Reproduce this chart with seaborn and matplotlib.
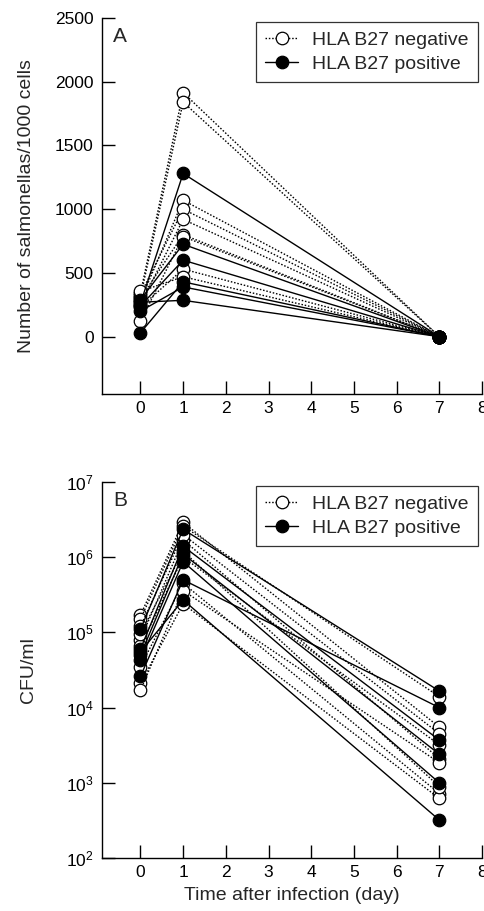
import matplotlib
matplotlib.use("Agg")
import matplotlib.pyplot as plt
from matplotlib.lines import Line2D
import seaborn as sns
import pandas as pd

# ---------------- data ----------------
days = [0, 1, 7]

# Panel A: number of salmonellas / 1000 cells
a_neg_day0 = [340, 310, 280, 330, 250, 300, 120, 230, 355]
a_neg_day1 = [1915, 1840, 1070, 1000, 920, 800, 785, 530, 470]
a_neg_day7 = [0, 0, 0, 0, 0, 0, 0, 0, 0]
a_pos_day0 = [260, 290, 240, 30, 200, 270]
a_pos_day1 = [1280, 725, 600, 430, 390, 285]
a_pos_day7 = [0, 0, 0, 0, 0, 0]

# Panel B: CFU/ml
b_neg_day0 = [1.7e5, 1.5e5, 8.0e4, 1.2e5, 3.5e4, 2.1e4, 1.7e4, 6.5e4, 9.5e4]
b_neg_day1 = [2.9e6, 2.6e6, 1.7e6, 2.0e6, 4.5e5, 2.4e5, 3.6e5, 1.0e6, 1.2e6]
b_neg_day7 = [5.5e3, 1.4e4, 2.1e3, 4.5e3, 7.2e2, 6.2e2, 1.85e3, 3.2e3, 8.9e2]
b_pos_day0 = [1.1e5, 6.0e4, 5.0e4, 4.3e4, 2.6e4, 5.5e4]
b_pos_day1 = [2.35e6, 1.4e6, 1.1e6, 8.7e5, 5.0e5, 2.7e5]
b_pos_day7 = [1.66e4, 3.7e3, 2.4e3, 1.0e3, 1.0e4, 3.2e2]

label_neg = "HLA B27 negative"
label_pos = "HLA B27 positive"

a_yticks = [0, 500, 1000, 1500, 2000, 2500]
b_yticks = [1e2, 1e3, 1e4, 1e5, 1e6, 1e7]
x_ticks = [0, 1, 2, 3, 4, 5, 6, 7, 8]


def long_frame(d0, d1, d7, prefix):
    rows = []
    for i, vals in enumerate(zip(d0, d1, d7)):
        for d, v in zip(days, vals):
            rows.append({"subject": f"{prefix}{i}", "day": d, "value": v})
    return pd.DataFrame(rows)


a_neg = long_frame(a_neg_day0, a_neg_day1, a_neg_day7, "n")
a_pos = long_frame(a_pos_day0, a_pos_day1, a_pos_day7, "p")
b_neg = long_frame(b_neg_day0, b_neg_day1, b_neg_day7, "n")
b_pos = long_frame(b_pos_day0, b_pos_day1, b_pos_day7, "p")

# ---------------- style ----------------
sns.set_theme(style="ticks")
plt.rcParams["font.family"] = ["Liberation Sans", "DejaVu Sans"]
plt.rcParams["mathtext.fontset"] = "custom"
plt.rcParams["mathtext.rm"] = "Liberation Sans"
plt.rcParams["mathtext.it"] = "Liberation Sans"

W, H = 484, 911
fig = plt.figure(figsize=(W / 100, H / 100), dpi=100)
ax1 = fig.add_axes([102 / W, 1 - 394 / H, 380 / W, 376 / H])
ax2 = fig.add_axes([102 / W, 1 - 858 / H, 380 / W, 376 / H])

dots = (0, (1.1, 1.3))
neg_kw = dict(color="black", lw=1.0, linestyle=dots, marker="o", markersize=9,
              markerfacecolor="white", markeredgecolor="black", markeredgewidth=0.9)
pos_kw = dict(color="black", lw=1.0, linestyle="-", marker="o", markersize=9,
              markerfacecolor="black", markeredgecolor="black", markeredgewidth=0.9)

for ax, neg, pos in [(ax1, a_neg, a_pos), (ax2, b_neg, b_pos)]:
    sns.lineplot(data=neg, x="day", y="value", units="subject", estimator=None,
                 sort=False, ax=ax, legend=False, **neg_kw)
    sns.lineplot(data=pos, x="day", y="value", units="subject", estimator=None,
                 sort=False, ax=ax, legend=False, **pos_kw)

# axes A
ax1.set_xlim(-0.9, 8)
ax1.set_ylim(-450, 2500)
ax1.set_yticks(a_yticks)
ax1.set_ylabel("Number of salmonellas/1000 cells", fontsize=14, labelpad=14)
ax1.set_xlabel("")

# axes B
ax2.set_yscale("log")
ax2.set_xlim(-0.9, 8)
ax2.set_ylim(1e2, 1e7)
ax2.set_yticks(b_yticks)
ax2.yaxis.set_minor_locator(matplotlib.ticker.NullLocator())
ax2.set_ylabel("CFU/ml", fontsize=14, labelpad=21)
ax2.set_xlabel("Time after infection (day)", fontsize=14, labelpad=5)

for ax, letter in [(ax1, "A"), (ax2, "B")]:
    ax.set_xticks(x_ticks)
    sns.despine(ax=ax)
    for s in ["left", "bottom"]:
        ax.spines[s].set_linewidth(1.0)
        ax.spines[s].set_color("black")
    ax.tick_params(axis="both", which="major", direction="in", length=9.5,
                   width=1.0, labelsize=12.5, colors="black")
    ax.tick_params(axis="x", pad=5)
    ax.tick_params(axis="y", pad=6)
    ax.text(0.03, 0.975, letter, transform=ax.transAxes, ha="left", va="top",
            fontsize=15)
    handles = [Line2D([], [], **neg_kw), Line2D([], [], **pos_kw)]
    leg = ax.legend(handles, [label_neg, label_pos], loc="upper right",
                    bbox_to_anchor=(0.99, 0.99), fontsize=14, frameon=True,
                    fancybox=False, edgecolor="black", handlelength=1.7,
                    handletextpad=0.7, borderpad=0.5, labelspacing=0.3,
                    borderaxespad=0.0)
    leg.get_frame().set_linewidth(0.9)

fig.savefig("out.png", dpi=100)
